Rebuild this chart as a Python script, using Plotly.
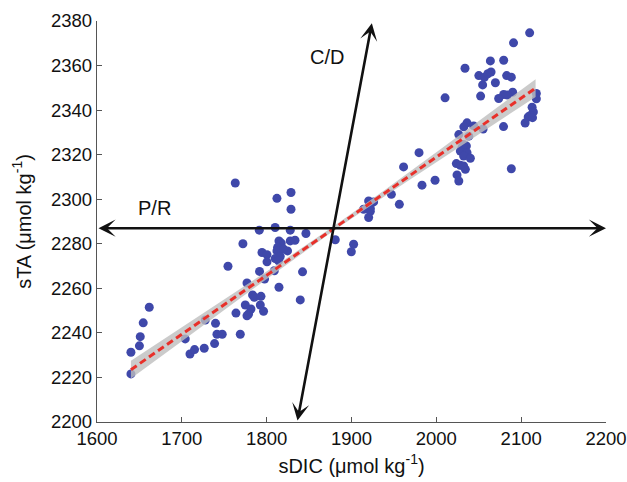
import plotly.graph_objects as go

# Observations (sDIC, sTA)
sdic = [1640, 1640, 1650, 1651, 1654.5, 1661.6, 1704, 1709.6, 1715, 1726.4, 1727.6, 1738.6,
        1739.7, 1741.4, 1747.6, 1763.8, 1768.9, 1754.4, 1772, 1763, 1776.8, 1774.8, 1781.5,
        1778.7, 1776.8, 1783.4, 1785.4, 1793.3, 1792.5, 1796.3, 1791.6, 1797.5, 1809, 1814.5,
        1839.6, 1842.3, 1791.3, 1810, 1827.8, 1846.3, 1812.1, 1828.7, 1828.7, 1814.5, 1817.2,
        1812.9, 1827.8, 1833.4, 1812.1, 1824.6, 1820, 1794.5, 1800.4, 1816, 1810.1, 1800.4,
        1814, 1880.9, 1902.5, 1899.8, 1914.3, 1920.2, 1926.1, 1922.2, 1922.2, 1920.2, 1947,
        1956.4, 1961.4, 1979.6, 1983.1, 1998.5, 2010.3, 2023.6, 2028.3, 2034.2, 2032.2, 2024.4,
        2026.5, 2030.3, 2035.4, 2028.3, 2036.2, 2032.2, 2040.1, 2032.2, 2026.5, 2038.3, 2036.2,
        2032.4, 2044, 2055.1, 2079.2, 2104.7, 2112.9, 2114.4, 2110.8, 2108.3, 2113.4, 2117.9,
        2117.9, 2090, 2079.4, 2073.5, 2083.7, 2052.2, 2054.6, 2069.6, 2050.1, 2056.6, 2060.7,
        2064.5, 2082.9, 2088.4, 2033.8, 2063.7, 2079.4, 2091, 2110, 2088.4]
sta = [2221.6, 2231.3, 2234.2, 2238.3, 2244.5, 2251.5, 2237.3, 2230.5, 2232.5, 2233.1, 2245.8,
       2235.2, 2244.3, 2239.4, 2239.4, 2248.9, 2239.4, 2269.9, 2280, 2307.3, 2262.4, 2252.5,
       2250.7, 2248.5, 2247.7, 2257, 2256, 2256.4, 2252.5, 2249.7, 2267.6, 2264.2, 2267.9,
       2260.5, 2254.8, 2267.4, 2286.1, 2287.3, 2286.1, 2284.6, 2300.4, 2303, 2295.5, 2281.3,
       2280.3, 2278.4, 2281.3, 2281.6, 2276.8, 2276.8, 2277.6, 2276.1, 2275.1, 2274.3, 2273.4,
       2271.9, 2272.4, 2281.8, 2279.8, 2276.4, 2295.5, 2299.2, 2298.8, 2296, 2294.6, 2291.8,
       2302.2, 2297.7, 2314.5, 2320.9, 2306.3, 2308.5, 2345.5, 2316, 2315.2, 2313.4, 2314.9,
       2310.9, 2308.2, 2323.2, 2323.9, 2321.6, 2320.9, 2319.4, 2318.4, 2324.6, 2329, 2328.3,
       2334.3, 2332.5, 2332.9, 2331.5, 2332.6, 2334.2, 2341.3, 2339.2, 2337.6, 2336.9, 2336.6,
       2347.5, 2345.1, 2348, 2347, 2345.2, 2346.8, 2346.3, 2351.3, 2352.3, 2355.5, 2354.7,
       2356.3, 2357.1, 2355.5, 2354.8, 2358.8, 2362.1, 2362.4, 2370.2, 2374.7, 2313.7]

# Regression fit line (end points) and its confidence band
fit_x = [1640, 2117]
fit_y = [2223.5, 2349.9]
band_x = [1640, 1700, 1760, 1820, 1878, 1940, 2000, 2060, 2117]
band_upper = [2227.5, 2242.5, 2257.5, 2272.6, 2287.6, 2304.4, 2321.1, 2337.9, 2353.9]
band_lower = [2219.5, 2236.3, 2253.1, 2269.8, 2285.6, 2301.6, 2316.7, 2331.7, 2345.9]

# Process vectors (start, end) in data units
pr_x = [1600, 2200]
pr_y = [2287, 2287]
cd_x = [1836, 1924]
cd_y = [2200, 2379]
labels = ["P/R", "C/D"]
label_x = [1668, 1871]
label_y = [2296, 2364]

x_ticks = [1600, 1700, 1800, 1900, 2000, 2100, 2200]
y_ticks = [2200, 2220, 2240, 2260, 2280, 2300, 2320, 2340, 2360, 2380]

FONT = "Liberation Sans, Arial, Helvetica, sans-serif"

fig = go.Figure()
fig.add_trace(go.Scatter(x=sdic, y=sta, mode="markers",
                         marker=dict(size=9, color="#3F48AA", line=dict(width=0)),
                         showlegend=False, hoverinfo="skip"))
fig.add_trace(go.Scatter(x=band_x + band_x[::-1], y=band_upper + band_lower[::-1],
                         fill="toself", fillcolor="rgba(190,190,190,0.8)",
                         line=dict(width=0), mode="lines", showlegend=False, hoverinfo="skip"))
fig.add_trace(go.Scatter(x=fit_x, y=fit_y, mode="lines",
                         line=dict(color="#E8302A", width=3, dash="7px,4px"),
                         showlegend=False, hoverinfo="skip"))

for ax_, ay_ in [(pr_x, pr_y), (cd_x, cd_y)]:
    fig.add_annotation(x=ax_[1], y=ay_[1], ax=ax_[0], ay=ay_[0], xref="x", yref="y",
                       axref="x", ayref="y", text="", showarrow=True, arrowhead=3,
                       arrowside="end+start", arrowsize=1.1, arrowwidth=2.6,
                       arrowcolor="#111111", standoff=0, startstandoff=0)

for t, lx, ly in zip(labels, label_x, label_y):
    fig.add_annotation(x=lx, y=ly, xref="x", yref="y", text=t, showarrow=False,
                       font=dict(family=FONT, size=20, color="#111111"))

axis_common = dict(showgrid=False, zeroline=False, showline=True, linecolor="#555555",
                   linewidth=1.2, ticks="inside", ticklen=5, tickcolor="#555555",
                   tickwidth=1.2, tickfont=dict(family=FONT, size=18.5, color="#111111"),
                   mirror=False, automargin=False, ticklabeloverflow="allow")

fig.update_xaxes(range=[1600, 2200], tickvals=x_ticks, ticktext=[str(v) for v in x_ticks],
                 title=dict(text="sDIC (μmol kg<sup>-1</sup>)",
                            font=dict(family=FONT, size=20, color="#111111"), standoff=10),
                 **axis_common)
fig.update_yaxes(range=[2200, 2380], tickvals=y_ticks, ticktext=[str(v) for v in y_ticks],
                 title=dict(text="sTA (μmol kg<sup>-1</sup>)",
                            font=dict(family=FONT, size=20, color="#111111"), standoff=14),
                 **axis_common)

fig.update_layout(width=627, height=482, margin=dict(l=97, r=21, t=21, b=60),
                  plot_bgcolor="white", paper_bgcolor="white", showlegend=False)

# remove the default page margin so the figure fills the window exactly
fig.write_html("out.html", config={"displayModeBar": False, "staticPlot": True},
               post_script="document.body.style.margin='0';document.body.style.overflow='hidden';")
